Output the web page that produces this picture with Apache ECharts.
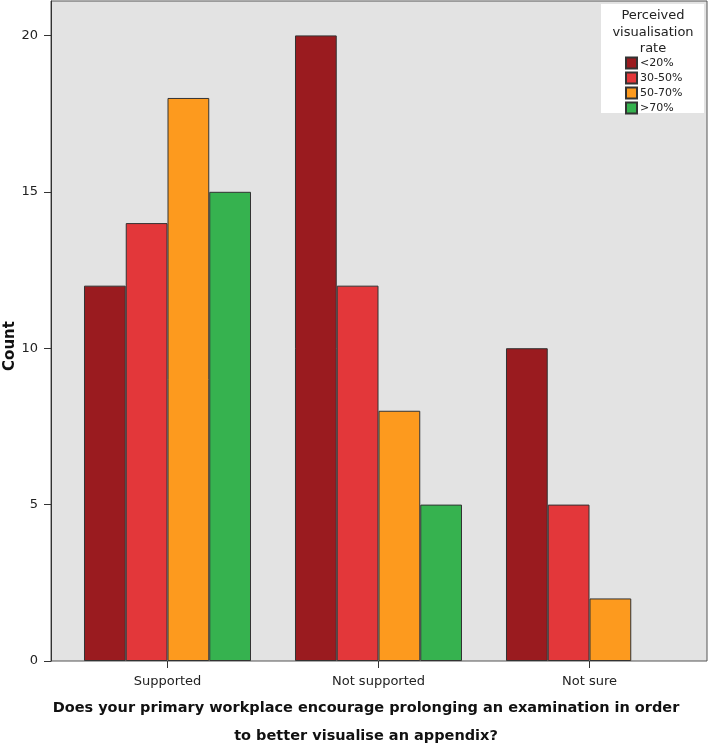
<!DOCTYPE html>
<html>
<head>
<meta charset="utf-8">
<script src="https://cdn.jsdelivr.net/npm/echarts@6/dist/echarts.min.js"></script>
<style>html,body{margin:0;padding:0;background:#fff;}#c{width:709px;height:743px;}</style>
</head>
<body>
<div id="c"></div>
<script>
const categories = ['Supported', 'Not supported', 'Not sure'];
const seriesNames = ['<20%', '30-50%', '50-70%', '>70%'];
const seriesColors = ['#9a1b1f', '#e3373a', '#fd9a1e', '#36b24f'];
const valsLt20 = [12, 20, 10];
const vals30to50 = [14, 12, 5];
const vals50to70 = [18, 8, 2];
const valsGt70 = [15, 5, null];
const yTicks = [0, 5, 10, 15, 20];

const seriesValues = [valsLt20, vals30to50, vals50to70, valsGt70];
const FONT = 'DejaVu Sans';
const YMAX = 21.1;

const chart = echarts.init(document.getElementById('c'), null, {renderer: 'canvas'});
chart.setOption({
  animation: false,
  backgroundColor: '#ffffff',
  grid: [
    {left: 51, right: 2, top: 1, bottom: 82, show: true, backgroundColor: '#e3e3e3', borderColor: '#555', borderWidth: 1},
    {left: 62, right: 14, top: 1, bottom: 82, show: false}
  ],
  xAxis: [
    {gridIndex: 0, type: 'value', show: false, min: 0, max: 1},
    {gridIndex: 1, type: 'category', data: categories,
     axisLine: {show: false},
     axisTick: {show: true, alignWithLabel: true, length: 7, lineStyle: {color: '#333'}},
     axisLabel: {fontFamily: FONT, fontSize: 13, color: '#222', margin: 14}}
  ],
  yAxis: [
    {gridIndex: 0, type: 'value', min: 0, max: YMAX, interval: 5,
     axisLine: {show: true, lineStyle: {color: '#333', width: 1}},
     axisTick: {show: true, length: 7, lineStyle: {color: '#333'}},
     axisLabel: {fontFamily: FONT, fontSize: 13, color: '#222', margin: 13, showMaxLabel: false,
       formatter: v => yTicks.indexOf(v) >= 0 ? String(v) : ''},
     splitLine: {show: false}},
    {gridIndex: 1, type: 'value', min: 0, max: YMAX, show: false, splitLine: {show: false}}
  ],
  legend: {
    orient: 'vertical', left: 625, top: 56.5, itemWidth: 11, itemHeight: 11, itemGap: 2,
    padding: 0, icon: 'rect', z: 20,
    textStyle: {fontFamily: FONT, fontSize: 11, color: '#222', lineHeight: 11, padding: [0, 0, 0, -2]},
    data: seriesNames
  },
  graphic: [
    {type: 'rect', z: 10, shape: {x: 601, y: 4, width: 103, height: 109}, style: {fill: '#ffffff'}},
    {type: 'text', z: 11, style: {x: 653, y: 16, text: 'Perceived', textAlign: 'center', textVerticalAlign: 'middle', font: '13px "DejaVu Sans"', fill: '#222'}},
    {type: 'text', z: 11, style: {x: 653, y: 32.5, text: 'visualisation', textAlign: 'center', textVerticalAlign: 'middle', font: '13px "DejaVu Sans"', fill: '#222'}},
    {type: 'text', z: 11, style: {x: 653, y: 49, text: 'rate', textAlign: 'center', textVerticalAlign: 'middle', font: '13px "DejaVu Sans"', fill: '#222'}},
    {type: 'text', z: 11, rotation: Math.PI / 2, x: 10, y: 346, style: {x: 0, y: 0, text: 'Count', textAlign: 'center', textVerticalAlign: 'middle', font: 'bold 15px "DejaVu Sans"', fill: '#111'}},
    {type: 'text', z: 11, style: {x: 366, y: 708, text: 'Does your primary workplace encourage prolonging an examination in order', textAlign: 'center', textVerticalAlign: 'middle', font: 'bold 14.5px "DejaVu Sans"', fill: '#111'}},
    {type: 'text', z: 11, style: {x: 366, y: 736, text: 'to better visualise an appendix?', textAlign: 'center', textVerticalAlign: 'middle', font: 'bold 14.5px "DejaVu Sans"', fill: '#111'}}
  ],
  series: seriesNames.map((name, i) => ({
    name: name, type: 'bar', xAxisIndex: 1, yAxisIndex: 1,
    data: seriesValues[i], barGap: '0%', barCategoryGap: '20.85%',
    itemStyle: {color: seriesColors[i], borderColor: '#333', borderWidth: 1}
  }))
});
</script>
</body>
</html>
